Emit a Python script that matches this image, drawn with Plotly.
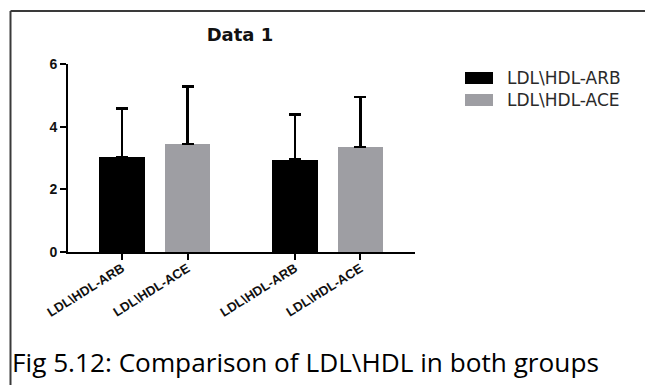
import plotly.graph_objects as go

# Bar data: two groups, each with an ARB and an ACE bar (mean + SD)
tick_labels = ["LDL\\HDL-ARB", "LDL\\HDL-ACE", "LDL\\HDL-ARB", "LDL\\HDL-ACE"]
series_names = ["LDL\\HDL-ARB", "LDL\\HDL-ACE"]
arb_means = [3.03, 2.95]
arb_sd = [1.55, 1.43]
ace_means = [3.45, 3.35]
ace_sd = [1.83, 1.60]
y_ticks = [0, 2, 4, 6]

W, H = 645, 385
L, R, T, B = 68, 230, 64, 133
plot_w, plot_h = W - L - R, H - T - B


def px_x(px):
    return (px - L) / plot_w


def px_y(py):
    return (H - B - py) / plot_h


# Bar slots: pairs within a group are 1 unit apart, groups separated by a wider gap
group_gap = 1.64
arb_x = [0, 1 + group_gap]
ace_x = [1, 2 + group_gap]
tick_x = [arb_x[0], ace_x[0], arb_x[1], ace_x[1]]

black = "#000000"
grey = "#9e9ea3"

fig = go.Figure()
for name, xs, ys, sd, col in [
    (series_names[0], arb_x, arb_means, arb_sd, black),
    (series_names[1], ace_x, ace_means, ace_sd, grey),
]:
    fig.add_trace(go.Bar(
        name=name, x=xs, y=ys, width=0.70,
        marker=dict(color=col, line=dict(width=0)),
        error_y=dict(type="data", symmetric=False, array=sd,
                     arrayminus=[0] * len(sd), color=black,
                     thickness=2.6, width=6),
        showlegend=False,
    ))

fig.update_layout(
    width=W, height=H,
    margin=dict(l=L, r=R, t=T, b=B, pad=0),
    paper_bgcolor="white", plot_bgcolor="white",
    title=dict(text="<b>Data 1</b>", x=240 / W, y=1 - 35 / H,
               xanchor="center", yanchor="middle",
               font=dict(family="DejaVu Sans", size=18, color="#111111")),
    bargap=0,
)

fig.update_xaxes(
    range=[(L - 122) / 65.5, (L + plot_w - 122) / 65.5],
    tickvals=tick_x, ticktext=[f"<b>{t}</b>" for t in tick_labels], tickangle=-32,
    ticklabelstandoff=-4,
    showline=True, linecolor=black, linewidth=2,
    ticks="outside", ticklen=6, tickwidth=2, tickcolor=black,
    tickfont=dict(family="Arial", size=13, color="#111111"),
    showgrid=False, zeroline=False,
)
fig.update_yaxes(
    range=[0, 6], tickvals=y_ticks, ticktext=[f"<b>{v}</b>" for v in y_ticks],
    showline=True, linecolor=black, linewidth=2,
    ticks="outside", ticklen=6, tickwidth=2, tickcolor=black,
    tickfont=dict(family="Arial", size=14, color="#111111"),
    showgrid=False, zeroline=False,
)

# Manual legend: swatches and labels to the right of the plot
legend_rows = [(series_names[0], black, 78), (series_names[1], grey, 100)]
for name, col, cy in legend_rows:
    fig.add_shape(type="rect", xref="paper", yref="paper",
                  x0=px_x(465), x1=px_x(493), y0=px_y(cy - 6), y1=px_y(cy + 6),
                  fillcolor=col, line=dict(width=0))
    fig.add_annotation(text=name, xref="paper", yref="paper",
                       x=px_x(505), y=px_y(cy), xanchor="left", yanchor="middle",
                       showarrow=False,
                       font=dict(family="DejaVu Sans", size=17, color="#2a2a2a"))

# Frame lines along the top and left edges
frame = dict(color="#3a3a3a", width=2)
fig.add_shape(type="line", xref="paper", yref="paper",
              x0=px_x(10.5), x1=px_x(W), y0=px_y(11), y1=px_y(11), line=frame)
fig.add_shape(type="line", xref="paper", yref="paper",
              x0=px_x(10.5), x1=px_x(10.5), y0=px_y(11), y1=px_y(H), line=frame)

# Figure caption
fig.add_annotation(text="Fig 5.12: Comparison of LDL\\HDL in both groups",
                   xref="paper", yref="paper", x=px_x(10), y=px_y(362),
                   xanchor="left", yanchor="middle", showarrow=False,
                   font=dict(family="Open Sans", size=26.2, color="#000000"))

fig.write_html("out.html")
